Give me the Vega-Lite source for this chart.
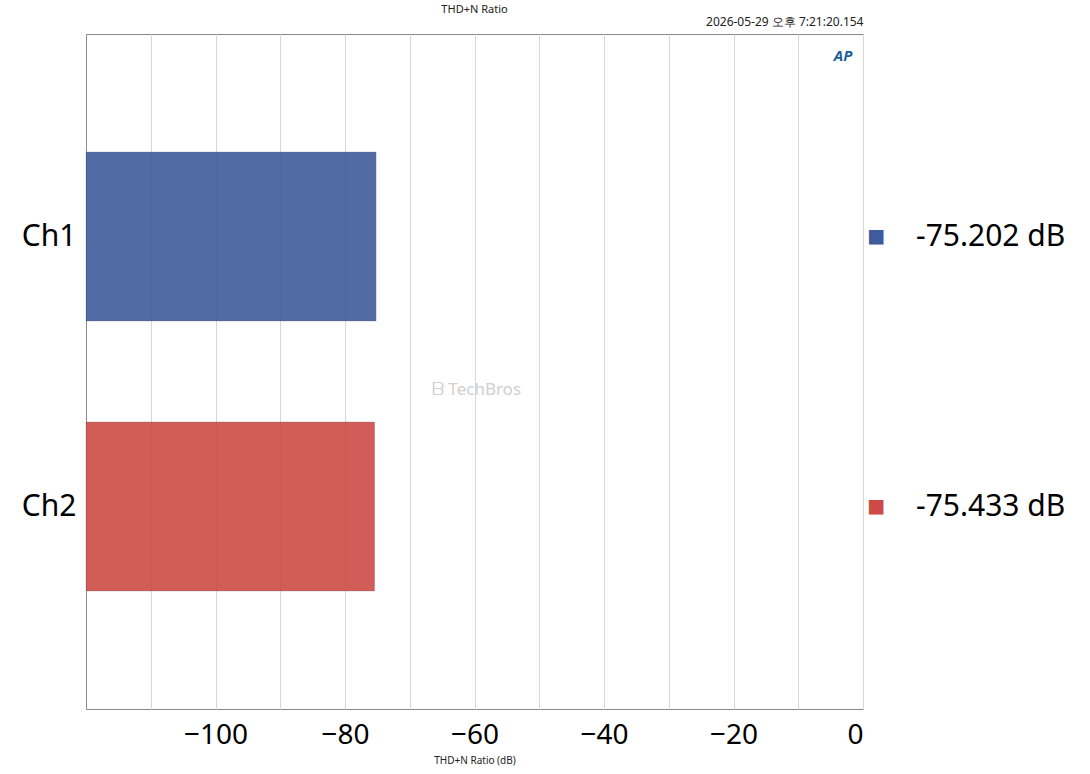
{
  "$schema": "https://vega.github.io/schema/vega-lite/v6.json",
  "width": 777,
  "height": 675,
  "autosize": "none",
  "padding": {"left": 86, "top": 34, "right": 227, "bottom": 65},
  "background": "#ffffff",
  "config": {
    "font": "Noto Sans",
    "view": {"stroke": "#8a8a8a", "strokeWidth": 1}
  },
  "title": {
    "text": "THD+N Ratio",
    "anchor": "middle",
    "fontSize": 11,
    "fontWeight": "normal",
    "color": "#222222",
    "offset": 0
  },
  "data": {
    "values": [
      {"ch": "Ch1", "thdn": -75.202, "label": "-75.202  dB"},
      {"ch": "Ch2", "thdn": -75.433, "label": "-75.433  dB"}
    ]
  },
  "encoding": {
    "y": {
      "field": "ch",
      "type": "nominal",
      "title": null,
      "scale": {"paddingInner": 0.374, "paddingOuter": 0.437},
      "axis": {
        "labelFontSize": 30,
        "labelColor": "#000000",
        "labelPadding": 10,
        "ticks": false,
        "domain": false,
        "bandPosition": 0.5,
        "gridColor": "#d0d0d0"
      }
    }
  },
  "layer": [
    {
      "mark": {"type": "bar", "opacity": 0.9, "stroke": "#555555", "strokeWidth": 0.5, "strokeOpacity": 0.5},
      "encoding": {
        "x": {
          "field": "thdn",
          "type": "quantitative",
          "title": "THD+N Ratio (dB)",
          "scale": {"domain": [-120, 0], "nice": false, "zero": false},
          "axis": {
            "values": [-110, -100, -90, -80, -70, -60, -50, -40, -30, -20, -10, 0],
            "labelExpr": "datum.value % 20 == 0 ? datum.label : ''",
            "labelFontSize": 28,
            "labelColor": "#000000",
            "labelPadding": 12,
            "ticks": false,
            "domain": false,
            "gridColor": "#d8d8d8",
            "titleFontSize": 10,
            "titleFontWeight": "normal",
            "titleColor": "#222222",
            "titlePadding": 6
          }
        },
        "x2": {"datum": -120},
        "color": {
          "field": "ch",
          "type": "nominal",
          "scale": {"domain": ["Ch1", "Ch2"], "range": ["#3f5b9b", "#cd4b46"]},
          "legend": null
        }
      }
    },
    {
      "mark": {"type": "text", "fontSize": 1, "opacity": 0},
      "encoding": {
        "x": {
          "datum": 0,
          "type": "quantitative",
          "axis": {
            "orient": "top",
            "title": "2026-05-29 오후 7:21:20.154",
            "titleAnchor": "end",
            "labels": false,
            "ticks": false,
            "domain": false,
            "grid": false,
            "titleFontSize": 12,
            "titleFontWeight": "normal",
            "titleColor": "#222222",
            "titlePadding": 6
          }
        },
        "text": {"value": ""}
      }
    },
    {
      "mark": {"type": "text", "text": "■", "fontSize": 30, "dx": 13, "align": "center", "baseline": "middle", "clip": false},
      "encoding": {
        "x": {"datum": 0, "type": "quantitative", "axis": null},
        "color": {"field": "ch", "type": "nominal", "legend": null}
      }
    },
    {
      "mark": {"type": "text", "fontSize": 30, "dx": 53, "align": "left", "baseline": "middle", "color": "#000000", "clip": false},
      "encoding": {
        "x": {"datum": 0, "type": "quantitative", "axis": null},
        "text": {"field": "label"}
      }
    },
    {
      "data": {"values": [{"t": "AP"}]},
      "mark": {"type": "text", "fontSize": 15, "fontWeight": "bold", "fontStyle": "italic", "color": "#1d5f9c", "dx": -20, "dy": -181, "align": "center", "baseline": "middle"},
      "encoding": {
        "x": {"datum": 0, "type": "quantitative", "axis": null},
        "y": {"datum": "Ch1", "type": "nominal"},
        "text": {"field": "t"}
      }
    },
    {
      "data": {"values": [{"t": "ᗷ TechBros"}]},
      "mark": {"type": "text", "fontSize": 17, "color": "#d0d0d0", "dy": 153, "dx": 2, "align": "center", "baseline": "middle"},
      "encoding": {
        "x": {"datum": -60, "type": "quantitative", "axis": null},
        "y": {"datum": "Ch1", "type": "nominal"},
        "text": {"field": "t"}
      }
    }
  ],
  "resolve": {"axis": {"x": "independent"}}
}
